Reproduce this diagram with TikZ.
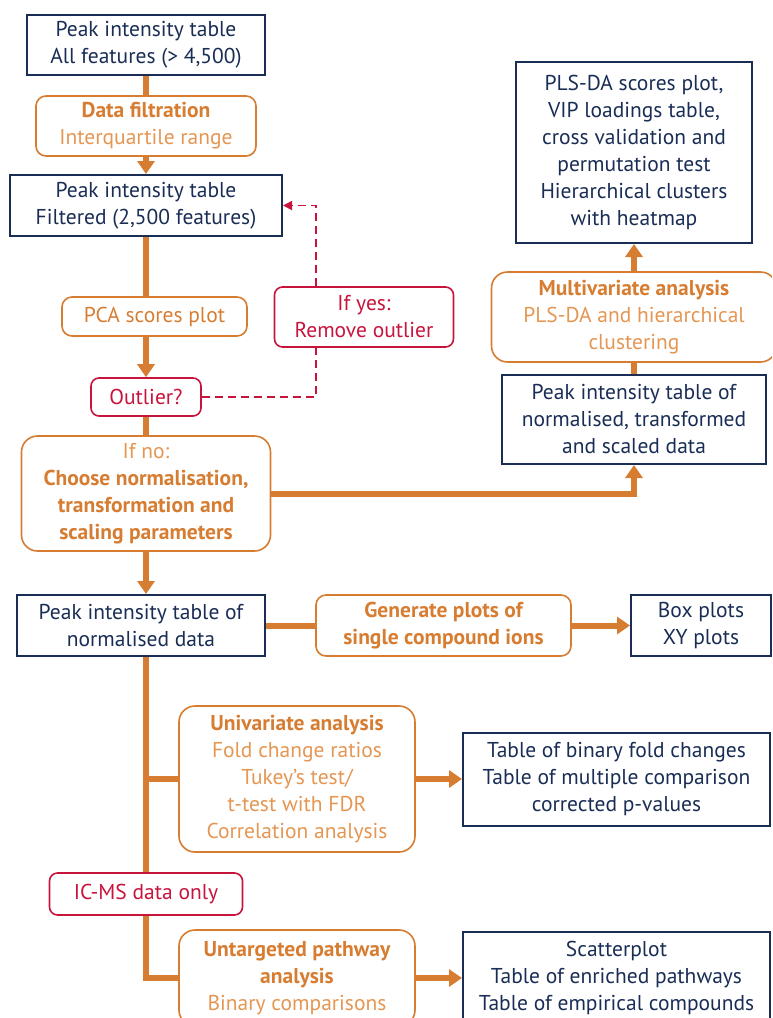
\documentclass[tikz,border=0pt]{standalone}
\usepackage{fontspec}
\setmainfont{PT Sans}
\usetikzlibrary{arrows.meta}
\definecolor{navy}{RGB}{25,45,85}
\definecolor{orng}{RGB}{214,125,50}
\definecolor{lorng}{RGB}{228,150,82}
\definecolor{crim}{RGB}{200,20,60}
\tikzset{
  tbl/.style={draw=navy,line width=2pt,text=navy,align=center,inner sep=2pt},
  proc/.style={draw=orng,line width=1.6pt,rounded corners=10pt,text=lorng,align=center,inner sep=2pt},
  warn/.style={draw=crim,line width=1.6pt,rounded corners=8pt,text=crim,align=center,inner sep=2pt},
  lnk/.style={draw=orng,line width=6pt},
  arr/.style={lnk,-{Triangle[length=13pt,width=17pt]}},
  dsh/.style={draw=crim,line width=1.8pt,dash pattern=on 8pt off 5pt},
}
\newcommand{\hd}[1]{{\bfseries\color{orng}#1}}
\begin{document}
\begin{tikzpicture}[x=1pt,y=-1pt,font=\fontsize{21.5}{27}\selectfont]
  \clip (0,0) rectangle (772,1018);
  \coordinate (sp) at (146,0);
  \coordinate (dx) at (316,0);
  % left column
  \node[tbl,minimum width=238,minimum height=60] (all) at (146,45) {Peak intensity table\\All features (> 4,500)};
  \node[proc,minimum width=220,minimum height=60] (filt) at (146,126) {\hd{Data filtration}\\Interquartile range};
  \node[tbl,minimum width=272,minimum height=61] (flt) at (146,205.5) {Peak intensity table\\Filtered (2,500 features)};
  \node[proc,text=orng,minimum width=185,minimum height=39] (pca) at (154.5,316.5) {PCA scores plot};
  \node[warn,minimum width=179,minimum height=60] (yes) at (364,317) {If yes:\\Remove outlier};
  \node[warn,minimum width=110,minimum height=38] (outl) at (146,397) {Outlier?};
  \node[proc,rounded corners=16pt,minimum width=249,minimum height=115] (ifno) at (146,493.5) {If no:\\\hd{Choose normalisation,}\\\hd{transformation and}\\\hd{scaling parameters}};
  \node[tbl,minimum width=248,minimum height=61] (norm) at (141,625.5) {Peak intensity table of\\normalised data};
  \node[proc,minimum width=255,minimum height=61] (gen) at (443.5,625.5) {\hd{Generate plots of}\\\hd{single compound ions}};
  \node[tbl,minimum width=140,minimum height=61] (boxp) at (701,625.5) {Box plots\\XY plots};
  \node[proc,rounded corners=16pt,minimum width=236,minimum height=146] (uni) at (297,779) {\hd{Univariate analysis}\\Fold change ratios\\Tukey’s test/\\t-test with FDR\\Correlation analysis};
  \node[tbl,minimum width=307,minimum height=93] (tuni) at (616.5,779) {Table of binary fold changes\\Table of multiple comparison\\corrected p-values};
  \node[warn,minimum width=193,minimum height=42] (icms) at (146,894) {IC-MS data only};
  \node[proc,rounded corners=16pt,minimum width=236,minimum height=96] (untar) at (297,978) {\hd{Untargeted pathway}\\\hd{analysis}\\Binary comparisons};
  \node[tbl,minimum width=307,minimum height=93] (scat) at (616.5,978) {Scatterplot\\Table of enriched pathways\\Table of empirical compounds};
  % right column
  \node[tbl,minimum width=236,minimum height=181] (pls) at (634,152.5) {PLS-DA scores plot,\\VIP loadings table,\\cross validation and\\permutation test\\Hierarchical clusters\\with heatmap};
  \node[proc,rounded corners=16pt,minimum width=285,minimum height=90] (multi) at (634,317) {\hd{Multivariate analysis}\\PLS-DA and hierarchical\\clustering};
  \node[tbl,minimum width=264,minimum height=89] (scal) at (634,419.5) {Peak intensity table of\\normalised, transformed\\and scaled data};
  % connectors
  \draw[lnk] (all) -- (filt);
  \draw[arr] (filt) -- (flt);
  \draw[lnk] (flt.south) -- (sp |- pca.north);
  \draw[arr] (sp |- pca.south) -- (outl.north);
  \draw[lnk] (outl) -- (ifno);
  \draw[arr] (ifno.south) -- (sp |- norm.north);
  \draw[arr] (ifno.east) -| (scal.south);
  \draw[lnk] (scal) -- (multi);
  \draw[arr] (multi) -- (pls);
  \draw[dsh] (outl.east) -| (dx |- yes.south);
  \draw[dsh,-{Triangle[length=9pt,width=9pt]}] (dx |- yes.north) |- (flt.east);
  \draw[lnk] (norm) -- (gen);
  \draw[arr] (gen) -- (boxp);
  \draw[lnk] (sp |- norm.south) -- (sp |- icms.north);
  \draw[lnk] (sp |- uni.west) -- (uni.west);
  \draw[arr] (uni) -- (tuni);
  \draw[lnk] (sp |- icms.south) |- (untar.west);
  \draw[arr] (untar) -- (scat);
\end{tikzpicture}
\end{document}
